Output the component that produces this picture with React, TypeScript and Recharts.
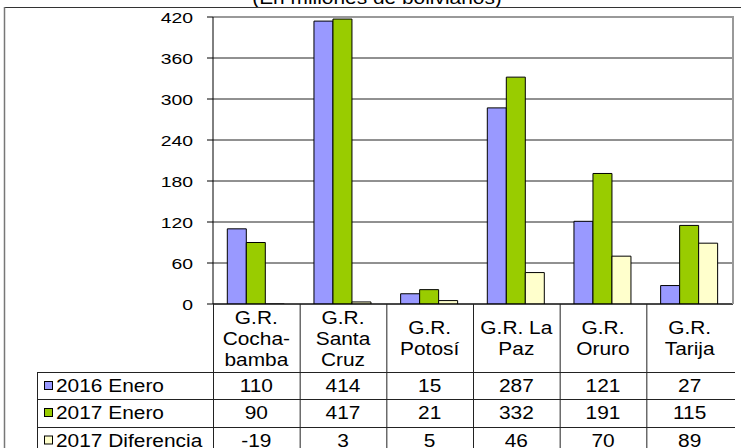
import React from 'react';
import { BarChart, Bar, XAxis, YAxis, CartesianGrid, ReferenceLine } from 'recharts';

const categories = ['G.R.\nCocha-\nbamba', 'G.R.\nSanta\nCruz', 'G.R.\nPotosí', 'G.R. La\nPaz', 'G.R.\nOruro', 'G.R.\nTarija'];
const enero2016 = [110, 414, 15, 287, 121, 27];
const enero2017 = [90, 417, 21, 332, 191, 115];
const diferencia = [-19, 3, 5, 46, 70, 89];
const seriesNames = ['2016 Enero', '2017 Enero', '2017 Diferencia'];
const yTicks = [0, 60, 120, 180, 240, 300, 360, 420];
const title = '(En millones de bolivianos)';

const seriesValues = [enero2016, enero2017, diferencia];
const colors = ['#9999FF', '#99CC00', '#FFFFCC'];

const data = categories.map((name, i) => ({
  name,
  a: enero2016[i],
  b: enero2017[i],
  c: diferencia[i],
}));

const W = 741;
const H = 448;
const PLOT_LEFT = 213;
const PLOT_RIGHT = 733;
const PLOT_TOP = 17;
const PLOT_BOTTOM = 304;
const PLOT_W = PLOT_RIGHT - PLOT_LEFT;
const ROW_LINES = [372, 399, 427];
const ROW_MIDS = [385.5, 412.5, 440];
const FONT = '"Liberation Sans", Arial, sans-serif';
const FS = 18.5;
const SX = 1.13;

const CategoryTick = (props: any) => {
  const { x, payload } = props;
  const idx = props.index ?? payload?.index ?? 0;
  const colW = PLOT_W / categories.length;
  const left = x - colW / 2;
  const lines = String(payload.value).split('\n');
  const mid = 344.5;
  return (
    <g>
      <line x1={left + 0.5} x2={left + 0.5} y1={PLOT_BOTTOM} y2={H} stroke="#222" strokeWidth={1} />
      {lines.map((l, k) => (
        <text
          key={k}
          transform={`translate(${x},${mid + (k - (lines.length - 1) / 2) * 21}) scale(${SX},1)`}
          textAnchor="middle"
          fontFamily={FONT}
          fontSize={FS}
          fill="#000"
        >
          {l}
        </text>
      ))}
      {seriesValues.map((vals, r) => (
        <text
          key={`v${r}`}
          transform={`translate(${x},${ROW_MIDS[r] + 6.6}) scale(${SX},1)`}
          textAnchor="middle"
          fontFamily={FONT}
          fontSize={FS}
          fill="#000"
        >
          {vals[idx]}
        </text>
      ))}
    </g>
  );
};

const ValueTick = (props: any) => {
  const { y, payload } = props;
  return (
    <text
      transform={`translate(193,${y + 5.5}) scale(1.25,1)`}
      textAnchor="end"
      fontFamily={FONT}
      fontSize={15.5}
      fill="#000"
    >
      {payload.value}
    </text>
  );
};

export default function App() {
  return (
    <div style={{ position: 'absolute', top: 0, left: 0, width: W, height: H, background: '#fff' }}>
      <BarChart
        width={W}
        height={H}
        data={data}
        margin={{ top: PLOT_TOP, right: W - PLOT_RIGHT, left: 0, bottom: 0 }}
        barGap={0}
        barCategoryGap="16.5%"
      >
        <CartesianGrid vertical={false} stroke="#222" strokeWidth={1} />
        <XAxis
          dataKey="name"
          height={H - PLOT_BOTTOM}
          interval={0}
          tickLine={false}
          axisLine={{ stroke: '#000', strokeWidth: 1 }}
          tick={<CategoryTick />}
        />
        <YAxis
          width={PLOT_LEFT}
          domain={[0, 420]}
          ticks={yTicks}
          allowDataOverflow
          tickSize={6}
          axisLine={{ stroke: '#000', strokeWidth: 1 }}
          tickLine={{ stroke: '#000', strokeWidth: 1 }}
          tick={<ValueTick />}
        />
        <ReferenceLine y={420} stroke="#999" strokeWidth={2} />
        <Bar dataKey="a" name={seriesNames[0]} fill={colors[0]} stroke="#000" strokeWidth={1} isAnimationActive={false} />
        <Bar dataKey="b" name={seriesNames[1]} fill={colors[1]} stroke="#000" strokeWidth={1} isAnimationActive={false} />
        <Bar dataKey="c" name={seriesNames[2]} fill={colors[2]} stroke="#000" strokeWidth={1} isAnimationActive={false} />
      </BarChart>
      <svg
        width={W}
        height={H}
        style={{ position: 'absolute', top: 0, left: 0, pointerEvents: 'none' }}
      >
        <text
          transform={`translate(377,4) scale(${SX},1)`}
          textAnchor="middle"
          fontFamily={FONT}
          fontSize={FS}
          fill="#000"
        >
          {title}
        </text>
        <line x1={4} x2={W} y1={7.5} y2={7.5} stroke="#333" strokeWidth={1} />
        <line x1={4.5} x2={4.5} y1={7} y2={H} stroke="#777" strokeWidth={1.5} />
        <line x1={PLOT_RIGHT} x2={PLOT_RIGHT} y1={PLOT_TOP - 1} y2={PLOT_BOTTOM} stroke="#999" strokeWidth={2} />
        <line x1={37.5} x2={37.5} y1={ROW_LINES[0]} y2={H} stroke="#222" strokeWidth={1} />
        <line x1={PLOT_LEFT + 0.5} x2={PLOT_LEFT + 0.5} y1={PLOT_BOTTOM} y2={H} stroke="#222" strokeWidth={1} />
        {ROW_LINES.map((y) => (
          <line key={y} x1={37} x2={735} y1={y + 0.5} y2={y + 0.5} stroke="#222" strokeWidth={1} />
        ))}
        {seriesNames.map((n, r) => (
          <g key={n}>
            <rect x={44.5} y={ROW_MIDS[r] - 4} width={8} height={8} fill={colors[r]} stroke="#000" strokeWidth={1} />
            <text
              transform={`translate(56,${ROW_MIDS[r] + 6.6}) scale(${SX},1)`}
              fontFamily={FONT}
              fontSize={FS}
              fill="#000"
            >
              {n}
            </text>
          </g>
        ))}
      </svg>
    </div>
  );
}
